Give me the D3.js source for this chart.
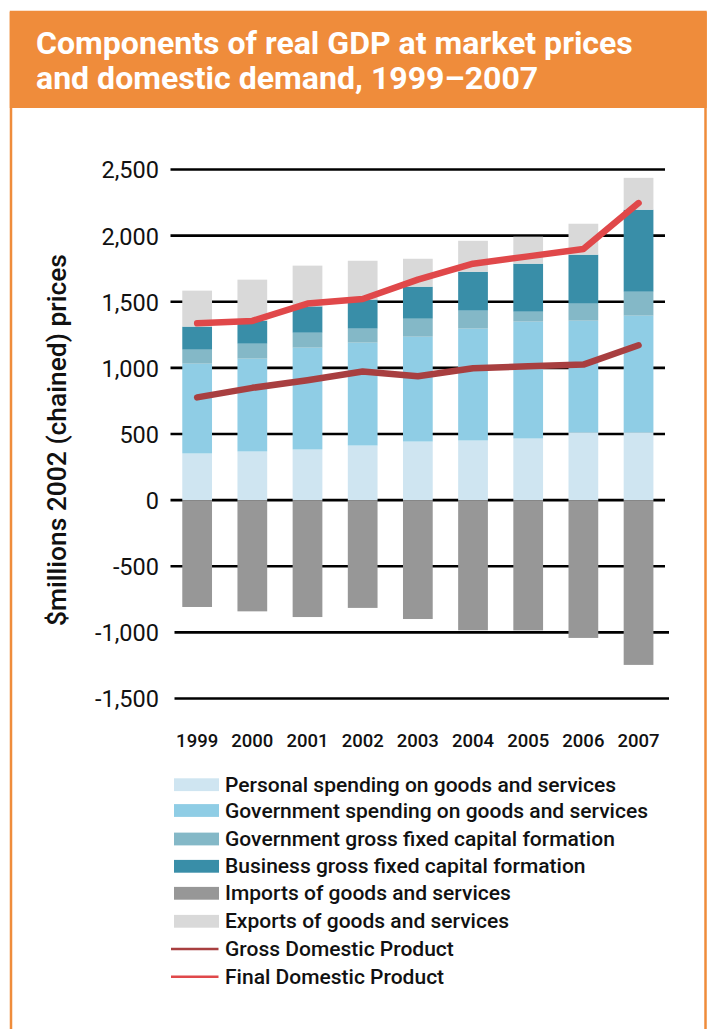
<!DOCTYPE html>
<html>
<head>
<meta charset="utf-8">
<script src="https://cdn.jsdelivr.net/npm/d3@7"></script>
<style>
  html, body { margin: 0; padding: 0; background: #ffffff; }
  svg { display: block; }
</style>
</head>
<body>
<svg id="chart" width="709" height="1029"></svg>
<script>
// ---------- DATA ----------
const years = ["1999", "2000", "2001", "2002", "2003", "2004", "2005", "2006", "2007"];
const personalSpending = [353, 368, 383, 413, 443, 451, 466, 511, 511];
const governmentSpending = [679, 702, 770, 778, 793, 846, 884, 846, 884];
const governmentGFCF = [106, 113, 113, 106, 136, 136, 75, 129, 181];
const businessGFCF = [174, 174, 199, 219, 242, 294, 363, 370, 620];
const exportsGS = [272, 310, 308, 294, 211, 234, 204, 234, 241];
const importsGS = [-808, -841, -884, -815, -899, -984, -985, -1042, -1246];
const grossDomesticProduct = [777, 849, 906, 972, 937, 997, 1012, 1025, 1171];
const finalDomesticProduct = [1337, 1355, 1486, 1521, 1667, 1788, 1843, 1899, 2246];
const yTicks = [2500, 2000, 1500, 1000, 500, 0, -500, -1000, -1500];

const titleLines = ["Components of real GDP at market prices", "and domestic demand, 1999\u20132007"];
const yAxisTitle = "$millions 2002 (chained) prices";

const stackKeys = ["personal", "government", "govGFCF", "business", "exports"];
const seriesLabels = {
  personal: "Personal spending on goods and services",
  government: "Government spending on goods and services",
  govGFCF: "Government gross fixed capital formation",
  business: "Business gross fixed capital formation",
  imports: "Imports of goods and services",
  exports: "Exports of goods and services",
  gdp: "Gross Domestic Product",
  fdp: "Final Domestic Product"
};
const colors = {
  personal: "#cfe5f1",
  government: "#8fcde5",
  govGFCF: "#84b8c7",
  business: "#398ea8",
  imports: "#979797",
  exports: "#d9d9d9",
  gdp: "#a83f40",
  fdp: "#e0484a"
};
const legendOrder = ["personal", "government", "govGFCF", "business", "imports", "exports", "gdp", "fdp"];

// ---------- SETUP ----------
const svg = d3.select("#chart");
const orange = "#ef8c3b";
const font = "Roboto, 'DejaVu Sans', sans-serif";

function fitText(sel, target) {
  const node = sel.node();
  const w = node.getComputedTextLength();
  const fs = parseFloat(sel.attr("font-size"));
  if (w > 0) sel.attr("font-size", (fs * target / w).toFixed(2));
  return sel;
}

// Frame + header
svg.append("rect")
  .attr("x", 11).attr("y", 12).attr("width", 694.5).attr("height", 1040)
  .attr("fill", "#fff").attr("stroke", orange).attr("stroke-width", 2.5);
svg.append("rect")
  .attr("x", 9.75).attr("y", 12).attr("width", 697).attr("height", 96)
  .attr("fill", orange);

const titleG = svg.append("g");
const titleBaselines = [53.5, 88.5];
titleLines.forEach((t, i) => {
  titleG.append("text")
    .attr("x", 36).attr("y", titleBaselines[i])
    .attr("fill", "#fff")
    .attr("font-family", font)
    .attr("font-weight", 700)
    .attr("font-size", 27)
    .text(t);
});
const firstTitle = titleG.selectAll("text").filter((d, i) => i === 0);
fitText(firstTitle, 597);
titleG.selectAll("text").attr("font-size", firstTitle.attr("font-size"));

// ---------- SCALES ----------
const x = d3.scaleBand()
  .domain(years)
  .range([170.7, 665])
  .paddingInner(0.461)
  .paddingOuter(0.21);

const y = d3.scaleLinear()
  .domain([-1500, 2500])
  .range([698.5, 169.5]);

// Gridlines
const grid = svg.append("g").attr("class", "grid");
grid.selectAll("line")
  .data(yTicks)
  .join("line")
  .attr("x1", d => d <= -1000 ? 174.5 : 170.5)
  .attr("x2", d => d <= -1000 ? 669 : 665)
  .attr("y1", d => y(d))
  .attr("y2", d => y(d))
  .attr("stroke", "#000")
  .attr("stroke-width", 2.6);

// Y axis labels via d3 axis (plain hyphen minus as in the original)
const fmt = d3.format(",");
const yAxis = d3.axisLeft(y)
  .tickValues(yTicks)
  .tickSize(0)
  .tickPadding(0)
  .tickFormat(d => fmt(d).replace("\u2212", "-"));
const yAxisG = svg.append("g")
  .attr("transform", "translate(159,0)")
  .call(yAxis);
yAxisG.select(".domain").remove();
yAxisG.selectAll("text")
  .attr("font-family", font)
  .attr("font-size", 23.5)
  .attr("font-weight", 400)
  .attr("fill", "#111")
  .attr("dy", "0.36em");

// ---------- BARS ----------
const tableRows = years.map((yr, i) => ({
  year: yr,
  personal: personalSpending[i],
  government: governmentSpending[i],
  govGFCF: governmentGFCF[i],
  business: businessGFCF[i],
  exports: exportsGS[i],
  imports: importsGS[i]
}));

const stacked = d3.stack().keys(stackKeys)(tableRows);

const barsG = svg.append("g");
stacked.forEach(layer => {
  barsG.append("g")
    .attr("fill", colors[layer.key])
    .selectAll("rect")
    .data(layer)
    .join("rect")
    .attr("x", d => x(d.data.year))
    .attr("width", x.bandwidth())
    .attr("y", d => y(d[1]))
    .attr("height", d => y(d[0]) - y(d[1]));
});
barsG.append("g")
  .attr("fill", colors.imports)
  .selectAll("rect")
  .data(tableRows)
  .join("rect")
  .attr("x", d => x(d.year))
  .attr("width", x.bandwidth())
  .attr("y", y(0))
  .attr("height", d => y(d.imports) - y(0));

// ---------- LINES ----------
const line = d3.line()
  .x((d, i) => x(years[i]) + x.bandwidth() / 2)
  .y(d => y(d));

svg.append("path")
  .datum(grossDomesticProduct)
  .attr("d", line)
  .attr("fill", "none")
  .attr("stroke", colors.gdp)
  .attr("stroke-width", 6.5)
  .attr("stroke-linecap", "round")
  .attr("stroke-linejoin", "round");

svg.append("path")
  .datum(finalDomesticProduct)
  .attr("d", line)
  .attr("fill", "none")
  .attr("stroke", colors.fdp)
  .attr("stroke-width", 6.5)
  .attr("stroke-linecap", "round")
  .attr("stroke-linejoin", "round");

// ---------- X AXIS ----------
const xAxis = d3.axisBottom(x).tickSize(0).tickPadding(0);
const xAxisG = svg.append("g")
  .attr("transform", "translate(0,747)")
  .call(xAxis);
xAxisG.select(".domain").remove();
xAxisG.selectAll("text")
  .attr("font-family", font)
  .attr("font-size", 18.5)
  .attr("font-weight", 500)
  .attr("fill", "#111")
  .attr("dy", 0);

// ---------- Y TITLE ----------
const yt = svg.append("text")
  .attr("transform", "translate(66,440) rotate(-90)")
  .attr("text-anchor", "middle")
  .attr("font-family", font)
  .attr("font-size", 21)
  .attr("font-weight", 500)
  .attr("fill", "#111")
  .text(yAxisTitle);
fitText(yt, 372);

// ---------- LEGEND ----------
const legendCenters = [784.7, 810.5, 839, 866.3, 893.3, 921.3, 949, 976.7];
const legend = svg.append("g");
legendOrder.forEach((k, i) => {
  const cy = legendCenters[i];
  if (k === "gdp" || k === "fdp") {
    legend.append("line")
      .attr("x1", 171).attr("x2", 218.5)
      .attr("y1", cy).attr("y2", cy)
      .attr("stroke", colors[k])
      .attr("stroke-width", 2.6);
  } else {
    legend.append("rect")
      .attr("x", 174).attr("y", cy - 6.4)
      .attr("width", 45).attr("height", 12.8)
      .attr("fill", colors[k]);
  }
  legend.append("text")
    .attr("class", "leg")
    .attr("x", 225)
    .attr("y", cy + 7)
    .attr("font-family", font)
    .attr("font-size", 19)
    .attr("font-weight", 500)
    .attr("fill", "#111")
    .text(seriesLabels[k]);
});
const legTexts = legend.selectAll("text.leg");
const longest = legTexts.filter((d, i) => i === 1);
fitText(longest, 423);
legTexts.attr("font-size", longest.attr("font-size"));
</script>
</body>
</html>
